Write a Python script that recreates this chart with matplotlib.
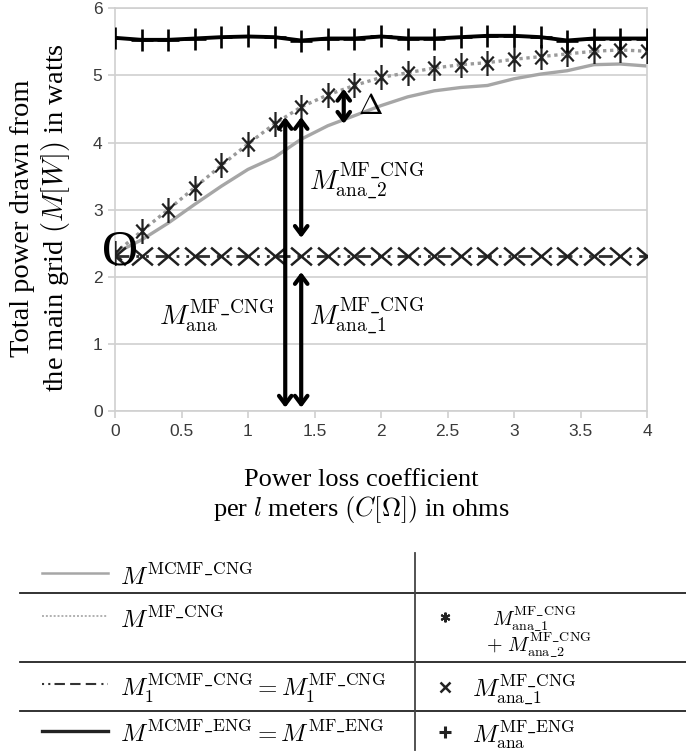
import numpy as np
import matplotlib
matplotlib.use('Agg')
import matplotlib.pyplot as plt
from matplotlib.lines import Line2D
from matplotlib.path import Path

plt.rcParams['mathtext.fontset'] = 'cm'

# ---------------- data ----------------
coef = [0.0, 0.2, 0.4, 0.6, 0.8, 1.0, 1.2, 1.4, 1.6, 1.8, 2.0,
        2.2, 2.4, 2.6, 2.8, 3.0, 3.2, 3.4, 3.6, 3.8, 4.0]

# M^MCMF_CNG (solid grey)
m_mcmf_cng = [2.35, 2.55, 2.80, 3.08, 3.35, 3.60, 3.78, 4.05, 4.25, 4.40, 4.55,
              4.68, 4.77, 4.82, 4.85, 4.95, 5.02, 5.07, 5.16, 5.17, 5.14]
# M^MF_CNG (dotted grey) and analytical sum (stars)
m_mf_cng = [2.35, 2.68, 3.00, 3.33, 3.66, 3.98, 4.28, 4.53, 4.71, 4.85, 4.97,
            5.04, 5.11, 5.16, 5.19, 5.24, 5.28, 5.32, 5.36, 5.38, 5.36]
# M_1 (dash dot, crosses)
m1_cng = [2.31, 2.31, 2.31, 2.31, 2.31, 2.31, 2.31, 2.31, 2.31, 2.31, 2.31,
          2.31, 2.31, 2.31, 2.31, 2.31, 2.31, 2.31, 2.31, 2.31, 2.31]
# M^MF_ENG (black solid, plus markers)
m_eng = [5.56, 5.53, 5.53, 5.55, 5.57, 5.58, 5.57, 5.52, 5.55, 5.55, 5.58,
         5.55, 5.55, 5.57, 5.59, 5.59, 5.57, 5.52, 5.55, 5.55, 5.55]

yticks = [0, 1, 2, 3, 4, 5, 6]
xticks = [0, 0.5, 1, 1.5, 2, 2.5, 3, 3.5, 4]
xticklabels = ['0', '0.5', '1', '1.5', '2', '2.5', '3', '3.5', '4']

# custom markers: tall narrow asterisk, wide cross
M, L = Path.MOVETO, Path.LINETO
star = Path([(0, -1), (0, 1), (-0.5, -0.55), (0.5, 0.55), (-0.5, 0.55), (0.5, -0.55)],
            [M, L, M, L, M, L])
cross = Path([(-1, -0.85), (1, 0.85), (-1, 0.85), (1, -0.85)], [M, L, M, L])

# ---------------- figure ----------------
fig = plt.figure(figsize=(6.86, 7.55), dpi=100)
ax = fig.add_axes([115/686, 1-411/755, 532/686, 402.7/755])

grid_c = '#d0d0d0'
ax.plot(coef, m_mcmf_cng, color='#a6a6a6', lw=2.4, zorder=2)
ax.plot(coef, m_mf_cng, color='#9a9a9a', lw=2.4, ls=(0, (1, 1.1)), zorder=2)
ax.plot(coef, m_mf_cng, ls='none', marker=star, ms=18, mew=1.6,
        color='#202020', zorder=3)
ax.plot(coef, m1_cng, color='#303030', lw=2.0, ls=(0, (5, 2.5, 1, 2.5, 1, 2.5)),
        marker=cross, ms=15, mew=1.8, mec='#202020', zorder=3)
ax.plot(coef, m_eng, color='black', lw=2.8, marker='+', ms=16, mew=1.9, zorder=4)

ax.set_xlim(0, 4)
ax.set_ylim(0, 6)
ax.set_xticks(xticks)
ax.set_xticklabels(xticklabels)
ax.set_yticks(yticks)
for s in ax.spines.values():
    s.set_color(grid_c)
    s.set_linewidth(1.2)
ax.grid(axis='y', color=grid_c, lw=1.2)
ax.set_axisbelow(True)
ax.tick_params(colors=grid_c, labelcolor='#3a3a3a', length=5, width=1.2,
               labelsize=12.5, pad=4)
for lab in ax.get_xticklabels() + ax.get_yticklabels():
    lab.set_family('Liberation Sans')

# arrows
arr = dict(arrowstyle='<->,head_length=0.6,head_width=0.45', lw=3, color='black',
           shrinkA=0, shrinkB=0)
ax.annotate('', xy=(1.28, 0.05), xytext=(1.28, 4.38), arrowprops=arr)
ax.annotate('', xy=(1.40, 2.58), xytext=(1.40, 4.38), arrowprops=arr)
ax.annotate('', xy=(1.40, 0.05), xytext=(1.40, 2.07), arrowprops=arr)
ax.annotate('', xy=(1.72, 4.28), xytext=(1.72, 4.80), arrowprops=arr)

ax.text(1.83, 4.54, r'$\Delta$', fontsize=21, ha='left', va='center')
ax.text(1.46, 3.43, r'$M_{\mathrm{ana\_2}}^{\mathrm{MF\_CNG}}$', fontsize=20,
        ha='left', va='center')
ax.text(0.33, 1.42, r'$M_{\mathrm{ana}}^{\mathrm{MF\_CNG}}$', fontsize=20,
        ha='left', va='center')
ax.text(1.46, 1.42, r'$M_{\mathrm{ana\_1}}^{\mathrm{MF\_CNG}}$', fontsize=20,
        ha='left', va='center')
ax.text(0.035, 2.36, 'O', family='Liberation Serif', fontsize=36, ha='center',
        va='center', zorder=5, clip_on=False)

# axis labels
fig.text(361/686, 1-497/755,
         'Power loss coefficient\nper $l$ meters $\\left(C[\\Omega]\\right)$ in ohms',
         family='Liberation Serif', fontsize=19, ha='center', va='center',
         linespacing=1.1)
fig.text(41/686, 1-218/755,
         'Total power drawn from\nthe main grid $\\left(M[W]\\right)$ in watts',
         family='Liberation Serif', fontsize=20.5, ha='center', va='center',
         rotation=90, linespacing=1.15)

# ---------------- legend table (pixel layout) ----------------
lg = fig.add_axes([0, 0, 1, 1], zorder=-1)
lg.set_xlim(0, 686)
lg.set_ylim(755, 0)
lg.axis('off')
lg.patch.set_alpha(0)

for y in [593, 662, 711]:
    lg.plot([20, 686], [y, y], color='#222222', lw=1.3)
lg.plot([415, 415], [553, 750], color='#444444', lw=1.3)

lg.add_line(Line2D([42, 108], [573, 573], color='#a6a6a6', lw=1.8))
lg.add_line(Line2D([42, 108], [616, 616], color='#b0b0b0', lw=1.4, ls=(0, (1, 1))))
lg.add_line(Line2D([42, 108], [684, 684], color='#333333', lw=1.5,
                   ls=(0, (1, 2, 1, 2, 5, 2.5, 5, 2.5, 5, 2.5))))
lg.add_line(Line2D([42, 108], [731, 731], color='#222222', lw=2.4))

lfs = 18
lg.text(120, 577, r'$M^{\mathrm{MCMF\_CNG}}$', fontsize=lfs, va='center')
lg.text(120, 620, r'$M^{\mathrm{MF\_CNG}}$', fontsize=lfs, va='center')
lg.text(120, 688, r'$M_1^{\mathrm{MCMF\_CNG}} = M_1^{\mathrm{MF\_CNG}}$',
        fontsize=lfs, va='center')
lg.text(120, 734, r'$M^{\mathrm{MCMF\_ENG}} = M^{\mathrm{MF\_ENG}}$',
        fontsize=lfs, va='center')

lg.plot([445], [617], ls='none', marker=(6, 2, 0), ms=7, mew=1.5, color='#222222')
lg.plot([445], [687], ls='none', marker='x', ms=7, mew=1.8, color='#222222')
lg.plot([445], [732], ls='none', marker='+', ms=8, mew=2.2, color='#222222')

lg.text(492, 618, r'$M_{\mathrm{ana\_1}}^{\mathrm{MF\_CNG}}$', fontsize=14.5,
        va='center')
lg.text(486, 644, r'$+\ M_{\mathrm{ana\_2}}^{\mathrm{MF\_CNG}}$', fontsize=14.5,
        va='center')
lg.text(472, 689, r'$M_{\mathrm{ana\_1}}^{\mathrm{MF\_CNG}}$', fontsize=lfs,
        va='center')
lg.text(472, 735, r'$M_{\mathrm{ana}}^{\mathrm{MF\_ENG}}$', fontsize=lfs,
        va='center')

fig.savefig('out.png', dpi=100)
